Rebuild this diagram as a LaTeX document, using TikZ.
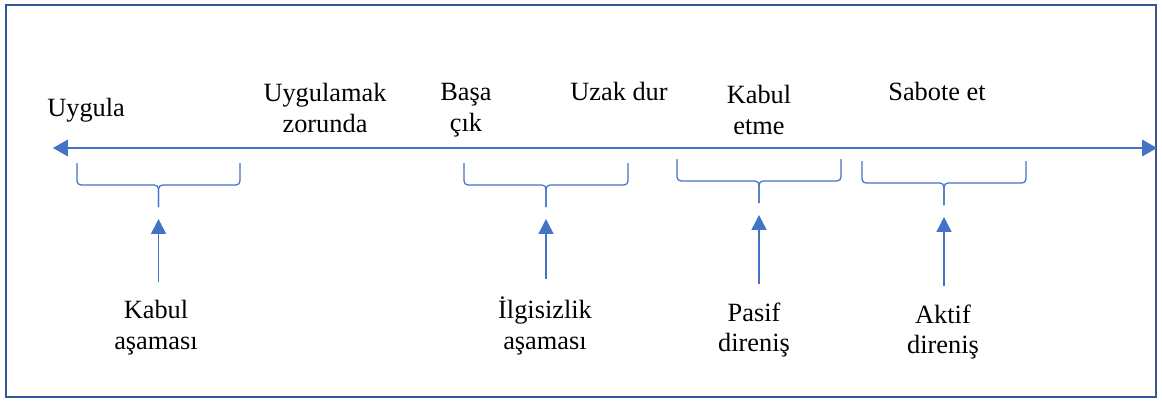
\documentclass[tikz,border=0pt]{standalone}
\usepackage{fontspec}
\setmainfont{Liberation Serif}
\usepackage{tikz}
\usetikzlibrary{arrows.meta}
\definecolor{lineblue}{RGB}{68,114,196}
\definecolor{frameblue}{RGB}{52,88,150}
\newcommand{\curly}[4]{\draw[brc] (#1,#3) |- ({(#1+#2)/2},#3+22) -- ({(#1+#2)/2},#3+44); \draw[brc] (#2,#3) |- ({(#1+#2)/2},#3+22) -- ({(#1+#2)/2},#3+44); \coordinate (#4) at ({(#1+#2)/2},#3+44);}

\begin{document}
\begin{tikzpicture}[x=0.02cm,y=-0.02cm,
        brc/.style={lineblue,line width=0.7pt,rounded corners=0.08cm},
        arr/.style={lineblue,line width=0.85pt,shorten <=0.36cm,shorten >=0.24cm,-{Triangle[length=8.5pt,width=8.5pt]}},
        lbl/.style={font=\rmfamily\fontsize{15}{17.5}\selectfont,align=center,inner sep=0pt}]
        \useasboundingbox (0,0) rectangle (1162,403);
        \draw[frameblue,line width=1.2pt] (6,5) rectangle (1156,397);
        %timeline
        \coordinate (lft) at (53,148);
        \coordinate (rgt) at (1157,148);
        \draw[lineblue,line width=0.85pt,{Triangle[length=8.5pt,width=9.5pt]}-{Triangle[length=8.5pt,width=9.5pt]}] (lft) -- (rgt);
        \node[lbl,anchor=base west] (uygula) at (47,116) {Uygula};
        \node[lbl] (zorunda) at (325,108) {Uygulamak\\zorunda};
        \node[lbl] (basa) at (466,110) {Başa\\çık};
        \node[lbl,anchor=base] (uzak) at (619,100) {Uzak dur};
        \node[lbl] (kabuletme) at (759,110) {Kabul\\etme};
        \node[lbl,anchor=base] (sabote) at (937,100) {Sabote et};
        %braces
        \curly{77}{240}{163}{b1}
        \curly{464}{628}{163}{b2}
        \curly{677}{841}{159}{b3}
        \curly{862}{1026}{161}{b4}
        %stages
        \node[lbl] (kabul) at (156,328) {Kabul\\aşaması};
        \node[lbl] (ilgisiz) at (545,326) {İlgisizlik\\aşaması};
        \node[lbl] (pasif) at (754,330) {Pasif\\direniş};
        \node[lbl] (aktif) at (943,332) {Aktif\\direniş};
        \draw[arr] (b1 |- kabul.north) -- (b1);
        \draw[arr] (b2 |- ilgisiz.north) -- (b2);
        \draw[arr] (b3 |- pasif.north) -- (b3);
        \draw[arr] (b4 |- aktif.north) -- (b4);
\end{tikzpicture}
\end{document}
